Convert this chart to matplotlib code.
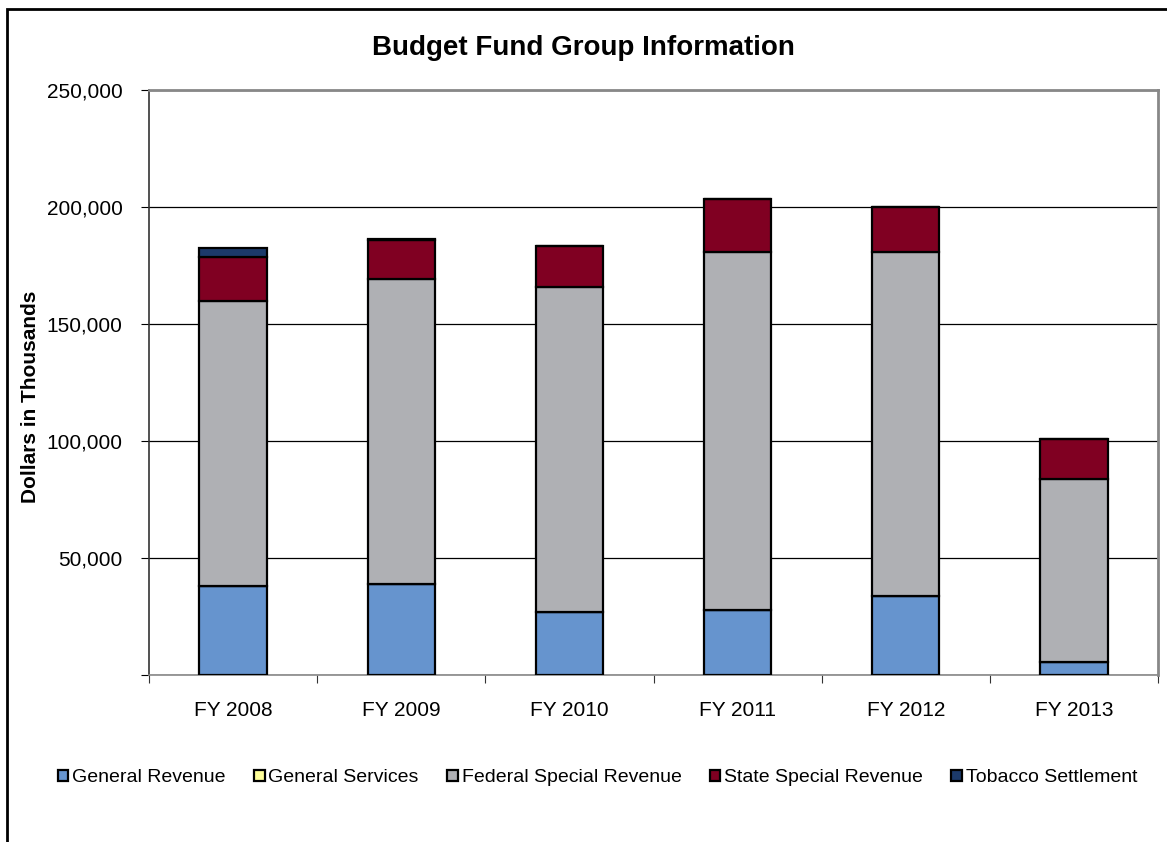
import matplotlib.pyplot as plt
import matplotlib.patches as mpatches
from matplotlib.ticker import FuncFormatter, MultipleLocator
import numpy as np

plt.rcParams['font.family'] = ['Liberation Sans', 'DejaVu Sans']

# Values (dollars in thousands)
years = ["FY 2008", "FY 2009", "FY 2010", "FY 2011", "FY 2012", "FY 2013"]
general_revenue = [38200, 38900, 27100, 27800, 33900, 5700]
general_services = [0, 0, 0, 0, 0, 0]
federal_special = [121500, 130500, 138800, 152800, 147000, 78100]
state_special = [19100, 16500, 17400, 22700, 19200, 17100]
tobacco = [3500, 600, 0, 0, 0, 0]

series = [
    ("General Revenue", general_revenue, "#6694CE"),
    ("General Services", general_services, "#FFFF99"),
    ("Federal Special Revenue", federal_special, "#AFB0B4"),
    ("State Special Revenue", state_special, "#800022"),
    ("Tobacco Settlement", tobacco, "#1C3A6A"),
]

fig = plt.figure(figsize=(11.67, 8.42), dpi=100)
ax = fig.add_axes([149 / 1167, 1 - 675 / 842, (1158 - 149) / 1167, (675 - 90) / 842])

x = np.arange(len(years))
bottom = np.zeros(len(years))
handles = []
for name, vals, color in series:
    vals = np.array(vals, dtype=float)
    ax.bar(x, vals, width=0.4, bottom=bottom, color=color, edgecolor="black",
           linewidth=1.6, zorder=3)
    bottom += vals
    handles.append(mpatches.Patch(facecolor=color, edgecolor="black", linewidth=1.6, label=name))

ax.set_xlim(-0.5, len(years) - 0.5)
ax.set_ylim(0, 250000)
ax.yaxis.set_major_locator(MultipleLocator(50000))
ax.yaxis.set_major_formatter(FuncFormatter(lambda v, p: "" if v == 0 else f"{v:,.0f}"))
ax.grid(axis="y", color="black", linewidth=0.9, zorder=0)

# category ticks sit on the boundaries, labels in the middle
ax.set_xticks(np.arange(len(years) + 1) - 0.5)
ax.set_xticklabels([])
ax.set_xticks(x, minor=True)
ax.set_xticklabels(years, minor=True, fontsize=15)
ax.tick_params(axis="x", which="minor", length=0, pad=19)
ax.tick_params(axis="x", which="major", length=6, direction="out", color="#333333")
ax.tick_params(axis="y", length=6, direction="out", labelsize=15, pad=13)

for side in ["top", "right"]:
    ax.spines[side].set_color("#888888")
    ax.spines[side].set_linewidth(2)
ax.spines["left"].set_color("#333333")
ax.spines["left"].set_linewidth(1.2)
ax.spines["bottom"].set_color("#888888")
ax.spines["bottom"].set_linewidth(1.2)

ax.set_ylabel("Dollars in Thousands", fontsize=15, fontweight="bold")
ax.yaxis.set_label_coords(-0.108, 0.475)
fig.text(0.5, 1 - 48 / 842, "Budget Fund Group Information", ha="center", va="center",
         fontsize=20, fontweight="bold")

fig.legend(handles=handles, loc="center", bbox_to_anchor=(0.512, 1 - 778 / 842), ncol=5,
           frameon=False, fontsize=14, handlelength=0.55, handleheight=0.55,
           handletextpad=0.2, columnspacing=1.45)

# outer chart frame (only left and top edges are visible in the picture)
fig.add_artist(mpatches.Rectangle((7 / 1167, -0.1), 1.2, 1.1 - 9 / 842,
                                  transform=fig.transFigure, fill=False,
                                  edgecolor="black", linewidth=2))

fig.savefig("out.png", dpi=100)
